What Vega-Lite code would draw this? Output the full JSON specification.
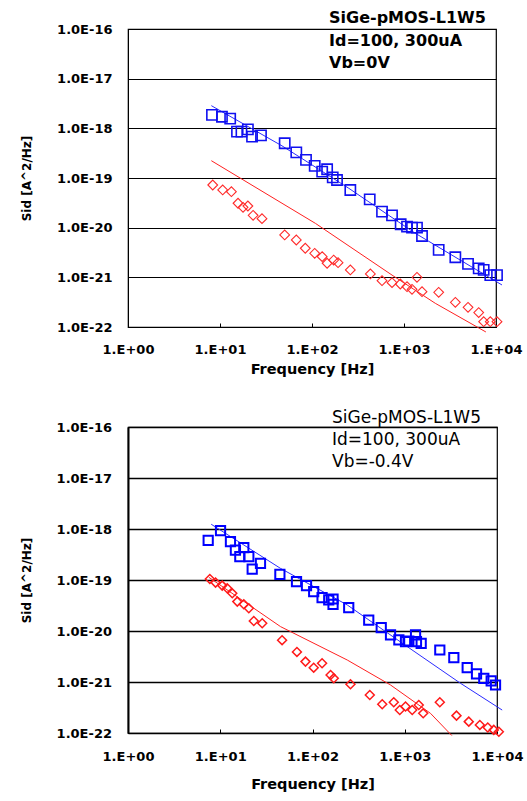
{
  "$schema": "https://vega.github.io/schema/vega-lite/v6.json",
  "background": "white",
  "padding": {"left": 19, "top": 9, "right": 5, "bottom": 2},
  "bounds": "flush",
  "spacing": 100,
  "datasets": {
    "top": [
      {"current": "300uA", "kind": "meas", "freq": 8.18, "sid": 1.86e-18},
      {"current": "300uA", "kind": "meas", "freq": 10.5, "sid": 1.71e-18},
      {"current": "300uA", "kind": "meas", "freq": 12.9, "sid": 1.57e-18},
      {"current": "300uA", "kind": "meas", "freq": 15.3, "sid": 8.57e-19},
      {"current": "300uA", "kind": "meas", "freq": 17.1, "sid": 8.57e-19},
      {"current": "300uA", "kind": "meas", "freq": 20.1, "sid": 9.55e-19},
      {"current": "300uA", "kind": "meas", "freq": 22.3, "sid": 6.79e-19},
      {"current": "300uA", "kind": "meas", "freq": 27.9, "sid": 7.23e-19},
      {"current": "300uA", "kind": "meas", "freq": 50.5, "sid": 5.0e-19},
      {"current": "300uA", "kind": "meas", "freq": 67.5, "sid": 3.29e-19},
      {"current": "300uA", "kind": "meas", "freq": 86.1, "sid": 2.31e-19},
      {"current": "300uA", "kind": "meas", "freq": 107, "sid": 1.75e-19},
      {"current": "300uA", "kind": "meas", "freq": 129, "sid": 1.34e-19},
      {"current": "300uA", "kind": "meas", "freq": 146, "sid": 1.5e-19},
      {"current": "300uA", "kind": "meas", "freq": 168, "sid": 1.03e-19},
      {"current": "300uA", "kind": "meas", "freq": 187, "sid": 9.12e-20},
      {"current": "300uA", "kind": "meas", "freq": 261, "sid": 5.74e-20},
      {"current": "300uA", "kind": "meas", "freq": 424, "sid": 3.72e-20},
      {"current": "300uA", "kind": "meas", "freq": 577, "sid": 2.1e-20},
      {"current": "300uA", "kind": "meas", "freq": 741, "sid": 1.77e-20},
      {"current": "300uA", "kind": "meas", "freq": 920, "sid": 1.17e-20},
      {"current": "300uA", "kind": "meas", "freq": 1079, "sid": 1.05e-20},
      {"current": "300uA", "kind": "meas", "freq": 1222, "sid": 1.0e-20},
      {"current": "300uA", "kind": "meas", "freq": 1384, "sid": 1.0e-20},
      {"current": "300uA", "kind": "meas", "freq": 1570, "sid": 6.79e-21},
      {"current": "300uA", "kind": "meas", "freq": 2382, "sid": 3.56e-21},
      {"current": "300uA", "kind": "meas", "freq": 3614, "sid": 2.54e-21},
      {"current": "300uA", "kind": "meas", "freq": 4966, "sid": 1.86e-21},
      {"current": "300uA", "kind": "meas", "freq": 6486, "sid": 1.52e-21},
      {"current": "300uA", "kind": "meas", "freq": 7345, "sid": 1.41e-21},
      {"current": "300uA", "kind": "meas", "freq": 8670, "sid": 1.11e-21},
      {"current": "300uA", "kind": "meas", "freq": 10257, "sid": 1.11e-21},
      {"current": "100uA", "kind": "meas", "freq": 8.34, "sid": 7.23e-20},
      {"current": "100uA", "kind": "meas", "freq": 10.7, "sid": 5.74e-20},
      {"current": "100uA", "kind": "meas", "freq": 13.3, "sid": 5.31e-20},
      {"current": "100uA", "kind": "meas", "freq": 15.7, "sid": 3.1e-20},
      {"current": "100uA", "kind": "meas", "freq": 17.8, "sid": 2.57e-20},
      {"current": "100uA", "kind": "meas", "freq": 20.1, "sid": 2.73e-20},
      {"current": "100uA", "kind": "meas", "freq": 22.9, "sid": 1.77e-20},
      {"current": "100uA", "kind": "meas", "freq": 28.6, "sid": 1.52e-20},
      {"current": "100uA", "kind": "meas", "freq": 50.5, "sid": 7.13e-21},
      {"current": "100uA", "kind": "meas", "freq": 67.5, "sid": 5.65e-21},
      {"current": "100uA", "kind": "meas", "freq": 84.5, "sid": 3.85e-21},
      {"current": "100uA", "kind": "meas", "freq": 107, "sid": 3.05e-21},
      {"current": "100uA", "kind": "meas", "freq": 129, "sid": 2.61e-21},
      {"current": "100uA", "kind": "meas", "freq": 146, "sid": 1.92e-21},
      {"current": "100uA", "kind": "meas", "freq": 172, "sid": 2.23e-21},
      {"current": "100uA", "kind": "meas", "freq": 192, "sid": 1.97e-21},
      {"current": "100uA", "kind": "meas", "freq": 261, "sid": 1.41e-21},
      {"current": "100uA", "kind": "meas", "freq": 431, "sid": 1.17e-21},
      {"current": "100uA", "kind": "meas", "freq": 577, "sid": 8.57e-22},
      {"current": "100uA", "kind": "meas", "freq": 741, "sid": 7.82e-22},
      {"current": "100uA", "kind": "meas", "freq": 912, "sid": 7.35e-22},
      {"current": "100uA", "kind": "meas", "freq": 1079, "sid": 6.49e-22},
      {"current": "100uA", "kind": "meas", "freq": 1222, "sid": 5.74e-22},
      {"current": "100uA", "kind": "meas", "freq": 1384, "sid": 1.0e-21},
      {"current": "100uA", "kind": "meas", "freq": 1570, "sid": 5.14e-22},
      {"current": "100uA", "kind": "meas", "freq": 2382, "sid": 4.99e-22},
      {"current": "100uA", "kind": "meas", "freq": 3614, "sid": 3.14e-22},
      {"current": "100uA", "kind": "meas", "freq": 4966, "sid": 2.49e-22},
      {"current": "100uA", "kind": "meas", "freq": 6486, "sid": 1.95e-22},
      {"current": "100uA", "kind": "meas", "freq": 7345, "sid": 1.28e-22},
      {"current": "100uA", "kind": "meas", "freq": 8670, "sid": 1.28e-22},
      {"current": "100uA", "kind": "meas", "freq": 10257, "sid": 1.28e-22},
      {"current": "300uA", "kind": "model", "freq": 8.05, "sid": 2.86e-18},
      {"current": "300uA", "kind": "model", "freq": 47.2, "sid": 4.44e-19},
      {"current": "300uA", "kind": "model", "freq": 251, "sid": 6.21e-20},
      {"current": "300uA", "kind": "model", "freq": 1327, "sid": 7.71e-21},
      {"current": "300uA", "kind": "model", "freq": 11614, "sid": 7.02e-22},
      {"current": "100uA", "kind": "model", "freq": 8.05, "sid": 2.23e-19},
      {"current": "100uA", "kind": "model", "freq": 47.2, "sid": 3.1e-20},
      {"current": "100uA", "kind": "model", "freq": 109, "sid": 1.22e-20},
      {"current": "100uA", "kind": "model", "freq": 741, "sid": 1.11e-21},
      {"current": "100uA", "kind": "model", "freq": 2188, "sid": 3.0e-22},
      {"current": "100uA", "kind": "model", "freq": 7762, "sid": 7.94e-23}
    ],
    "bottom": [
      {"current": "300uA", "kind": "meas", "freq": 7.4, "sid": 6.0e-19},
      {"current": "300uA", "kind": "meas", "freq": 10.07, "sid": 9.31e-19},
      {"current": "300uA", "kind": "meas", "freq": 12.9, "sid": 5.66e-19},
      {"current": "300uA", "kind": "meas", "freq": 14.6, "sid": 3.87e-19},
      {"current": "300uA", "kind": "meas", "freq": 18.0, "sid": 4.32e-19},
      {"current": "300uA", "kind": "meas", "freq": 16.3, "sid": 2.88e-19},
      {"current": "300uA", "kind": "meas", "freq": 20.4, "sid": 2.88e-19},
      {"current": "300uA", "kind": "meas", "freq": 22.2, "sid": 1.64e-19},
      {"current": "300uA", "kind": "meas", "freq": 27.3, "sid": 2.12e-19},
      {"current": "300uA", "kind": "meas", "freq": 44.3, "sid": 1.29e-19},
      {"current": "300uA", "kind": "meas", "freq": 67.1, "sid": 9.31e-20},
      {"current": "300uA", "kind": "meas", "freq": 86.1, "sid": 7.76e-20},
      {"current": "300uA", "kind": "meas", "freq": 103, "sid": 5.93e-20},
      {"current": "300uA", "kind": "meas", "freq": 127, "sid": 4.52e-20},
      {"current": "300uA", "kind": "meas", "freq": 150, "sid": 4.06e-20},
      {"current": "300uA", "kind": "meas", "freq": 167, "sid": 4.24e-20},
      {"current": "300uA", "kind": "meas", "freq": 167, "sid": 3.34e-20},
      {"current": "300uA", "kind": "meas", "freq": 247, "sid": 2.88e-20},
      {"current": "300uA", "kind": "meas", "freq": 407, "sid": 1.64e-20},
      {"current": "300uA", "kind": "meas", "freq": 556, "sid": 1.17e-20},
      {"current": "300uA", "kind": "meas", "freq": 701, "sid": 8.36e-21},
      {"current": "300uA", "kind": "meas", "freq": 863, "sid": 6.67e-21},
      {"current": "300uA", "kind": "meas", "freq": 1019, "sid": 6.19e-21},
      {"current": "300uA", "kind": "meas", "freq": 1107, "sid": 6.37e-21},
      {"current": "300uA", "kind": "meas", "freq": 1309, "sid": 8.36e-21},
      {"current": "300uA", "kind": "meas", "freq": 1340, "sid": 6.19e-21},
      {"current": "300uA", "kind": "meas", "freq": 1507, "sid": 5.74e-21},
      {"current": "300uA", "kind": "meas", "freq": 2399, "sid": 4.24e-21},
      {"current": "300uA", "kind": "meas", "freq": 3404, "sid": 3.01e-21},
      {"current": "300uA", "kind": "meas", "freq": 4753, "sid": 1.91e-21},
      {"current": "300uA", "kind": "meas", "freq": 5998, "sid": 1.44e-21},
      {"current": "300uA", "kind": "meas", "freq": 7194, "sid": 1.18e-21},
      {"current": "300uA", "kind": "meas", "freq": 8650, "sid": 1.05e-21},
      {"current": "300uA", "kind": "meas", "freq": 9638, "sid": 8.73e-22},
      {"current": "100uA", "kind": "meas", "freq": 7.71, "sid": 1.05e-19},
      {"current": "100uA", "kind": "meas", "freq": 8.89, "sid": 8.89e-20},
      {"current": "100uA", "kind": "meas", "freq": 10.5, "sid": 7.76e-20},
      {"current": "100uA", "kind": "meas", "freq": 11.9, "sid": 6.87e-20},
      {"current": "100uA", "kind": "meas", "freq": 13.5, "sid": 5.48e-20},
      {"current": "100uA", "kind": "meas", "freq": 15.3, "sid": 3.77e-20},
      {"current": "100uA", "kind": "meas", "freq": 18.0, "sid": 3.34e-20},
      {"current": "100uA", "kind": "meas", "freq": 20.4, "sid": 2.79e-20},
      {"current": "100uA", "kind": "meas", "freq": 23.1, "sid": 1.57e-20},
      {"current": "100uA", "kind": "meas", "freq": 28.5, "sid": 1.42e-20},
      {"current": "100uA", "kind": "meas", "freq": 46.8, "sid": 6.61e-21},
      {"current": "100uA", "kind": "meas", "freq": 67.8, "sid": 3.89e-21},
      {"current": "100uA", "kind": "meas", "freq": 83.9, "sid": 2.51e-21},
      {"current": "100uA", "kind": "meas", "freq": 103, "sid": 1.91e-21},
      {"current": "100uA", "kind": "meas", "freq": 127, "sid": 2.33e-21},
      {"current": "100uA", "kind": "meas", "freq": 157, "sid": 1.37e-21},
      {"current": "100uA", "kind": "meas", "freq": 170, "sid": 1.18e-21},
      {"current": "100uA", "kind": "meas", "freq": 258, "sid": 9.02e-22},
      {"current": "100uA", "kind": "meas", "freq": 418, "sid": 5.56e-22},
      {"current": "100uA", "kind": "meas", "freq": 570, "sid": 3.66e-22},
      {"current": "100uA", "kind": "meas", "freq": 760, "sid": 4.0e-22},
      {"current": "100uA", "kind": "meas", "freq": 883, "sid": 2.82e-22},
      {"current": "100uA", "kind": "meas", "freq": 1019, "sid": 3.3e-22},
      {"current": "100uA", "kind": "meas", "freq": 1205, "sid": 2.82e-22},
      {"current": "100uA", "kind": "meas", "freq": 1419, "sid": 3.54e-22},
      {"current": "100uA", "kind": "meas", "freq": 1585, "sid": 2.43e-22},
      {"current": "100uA", "kind": "meas", "freq": 2399, "sid": 4.0e-22},
      {"current": "100uA", "kind": "meas", "freq": 3639, "sid": 2.19e-22},
      {"current": "100uA", "kind": "meas", "freq": 4943, "sid": 1.67e-22},
      {"current": "100uA", "kind": "meas", "freq": 6516, "sid": 1.44e-22},
      {"current": "100uA", "kind": "meas", "freq": 7943, "sid": 1.28e-22},
      {"current": "100uA", "kind": "meas", "freq": 9226, "sid": 1.15e-22},
      {"current": "100uA", "kind": "meas", "freq": 10471, "sid": 1.06e-22},
      {"current": "300uA", "kind": "model", "freq": 7.98, "sid": 1.24e-18},
      {"current": "300uA", "kind": "model", "freq": 45.0, "sid": 1.69e-19},
      {"current": "300uA", "kind": "model", "freq": 238, "sid": 3.24e-20},
      {"current": "300uA", "kind": "model", "freq": 1064, "sid": 4.94e-21},
      {"current": "300uA", "kind": "model", "freq": 4018, "sid": 9.44e-22},
      {"current": "300uA", "kind": "model", "freq": 11376, "sid": 2.82e-22},
      {"current": "100uA", "kind": "model", "freq": 7.52, "sid": 1.13e-19},
      {"current": "100uA", "kind": "model", "freq": 45.0, "sid": 1.22e-20},
      {"current": "100uA", "kind": "model", "freq": 238, "sid": 2.7e-21},
      {"current": "100uA", "kind": "model", "freq": 702, "sid": 8.73e-22},
      {"current": "100uA", "kind": "model", "freq": 1901, "sid": 2.43e-22},
      {"current": "100uA", "kind": "model", "freq": 3236, "sid": 8.91e-23}
    ]
  },
  "vconcat": [
    {
      "width": 368,
      "height": 298,
      "data": {"name": "top"},
      "title": {"text": ["SiGe-pMOS-L1W5", "Id=100, 300uA", "Vb=0V"], "frame": "group", "anchor": "start", "align": "left", "dx": 201, "offset": -48, "fontSize": 16, "fontWeight": "bold", "lineHeight": 22.5, "color": "#000", "font": "DejaVu Sans"},
      "encoding": {
        "x": {
          "field": "freq", "type": "quantitative", "title": "Frequency [Hz]",
          "scale": {"type": "log", "domain": [1, 10000], "nice": false},
          "axis": {"values": [1, 10, 100, 1000, 10000], "labelExpr": "'1.E+0' + round(log(datum.value) / LN10)", "grid": false, "tickSize": -4, "labelPadding": 20, "titlePadding": 6}
        },
        "y": {
          "field": "sid", "type": "quantitative", "title": "Sid [A^2/Hz]",
          "scale": {"type": "log", "domain": [1e-22, 1e-16], "nice": false},
          "axis": {"values": [1e-22, 1e-21, 1e-20, 1e-19, 1e-18, 1e-17, 1e-16], "labelExpr": "replace(format(datum.value, '.1e'), 'e', 'E')", "grid": true, "ticks": false, "labelPadding": 16, "titlePadding": 23}
        }
      },
      "layer": [
        {"transform": [{"filter": "datum.kind === 'model' && datum.current === '300uA'"}], "mark": {"type": "line", "color": "#2b2bff", "strokeWidth": 1}},
        {"transform": [{"filter": "datum.kind === 'model' && datum.current === '100uA'"}], "mark": {"type": "line", "color": "#ff2020", "strokeWidth": 1}},
        {"transform": [{"filter": "datum.kind === 'meas' && datum.current === '300uA'"}], "mark": {"type": "point", "shape": "square", "filled": false, "size": 105, "strokeWidth": 1.6, "color": "#1010f0", "opacity": 1}},
        {"transform": [{"filter": "datum.kind === 'meas' && datum.current === '100uA'"}], "mark": {"type": "point", "shape": "diamond", "filled": false, "size": 95, "strokeWidth": 1.1, "color": "#ff2a2a", "opacity": 1}}
      ]
    },
    {
      "width": 369,
      "height": 306,
      "data": {"name": "bottom"},
      "title": {"text": ["SiGe-pMOS-L1W5", "Id=100, 300uA", "Vb=-0.4V"], "frame": "group", "anchor": "start", "align": "left", "dx": 204, "offset": -49.5, "fontSize": 17, "fontWeight": "normal", "lineHeight": 22, "color": "#000", "font": "DejaVu Sans"},
      "encoding": {
        "x": {
          "field": "freq", "type": "quantitative", "title": "Frequency [Hz]",
          "scale": {"type": "log", "domain": [1, 10000], "nice": false},
          "axis": {"values": [1, 10, 100, 1000, 10000], "labelExpr": "'1.E+0' + round(log(datum.value) / LN10)", "grid": false, "tickSize": -4, "labelPadding": 21, "titlePadding": 14}
        },
        "y": {
          "field": "sid", "type": "quantitative", "title": "Sid [A^2/Hz]",
          "scale": {"type": "log", "domain": [1e-22, 1e-16], "nice": false},
          "axis": {"values": [1e-22, 1e-21, 1e-20, 1e-19, 1e-18, 1e-17, 1e-16], "labelExpr": "replace(format(datum.value, '.1e'), 'e', 'E')", "grid": true, "ticks": false, "labelPadding": 16.5, "titlePadding": 23, "gridWidth": 1.6, "domainWidth": 2}
        }
      },
      "layer": [
        {"transform": [{"filter": "datum.kind === 'model' && datum.current === '300uA'"}], "mark": {"type": "line", "color": "#2b2bff", "strokeWidth": 1}},
        {"transform": [{"filter": "datum.kind === 'model' && datum.current === '100uA'"}], "mark": {"type": "line", "color": "#ff2020", "strokeWidth": 1}},
        {"transform": [{"filter": "datum.kind === 'meas' && datum.current === '300uA'"}], "mark": {"type": "point", "shape": "square", "filled": false, "size": 85, "strokeWidth": 2, "color": "#0000ff", "opacity": 1}},
        {"transform": [{"filter": "datum.kind === 'meas' && datum.current === '100uA'"}], "mark": {"type": "point", "shape": "diamond", "filled": false, "size": 80, "strokeWidth": 1.5, "color": "#ff1a1a", "opacity": 1}}
      ]
    }
  ],
  "config": {
    "font": "DejaVu Sans",
    "view": {"stroke": "#000", "strokeWidth": 1.2},
    "axis": {
      "domainColor": "#000",
      "tickColor": "#000",
      "gridColor": "#000",
      "gridOpacity": 1,
      "gridWidth": 1,
      "labelColor": "#000",
      "titleColor": "#000",
      "labelFont": "DejaVu Sans",
      "labelFontSize": 13,
      "labelFontWeight": "bold",
      "titleFont": "DejaVu Sans",
      "titleFontWeight": "bold",
      "labelFlush": false,
      "labelOverlap": false
    },
    "axisX": {"titleFontSize": 14.5},
    "axisY": {"titleFontSize": 12}
  }
}
